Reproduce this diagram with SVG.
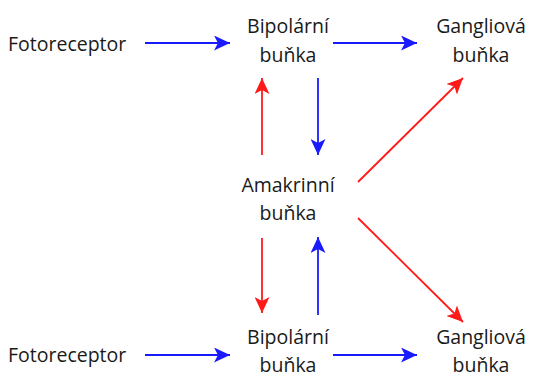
<svg xmlns="http://www.w3.org/2000/svg" width="539" height="378" viewBox="0 0 539 378">
<style>
text{font-family:"Open Sans","Noto Sans",sans-serif;font-size:19.5px;fill:#1a1a1a;}
.c{text-anchor:middle;}
.b{stroke:#1a1aff;stroke-width:1.8;fill:none;}
.r{stroke:#ff1a1a;stroke-width:1.8;fill:none;}
</style>
<defs>
<marker id="ab" viewBox="0 0 16 15" refX="16" refY="7.5" markerWidth="16" markerHeight="15" markerUnits="userSpaceOnUse" orient="auto"><path d="M0,0 L16,7.5 L0,15 L4,7.5 Z" fill="#1a1aff"/></marker>
<marker id="ar" viewBox="0 0 16 15" refX="16" refY="7.5" markerWidth="16" markerHeight="15" markerUnits="userSpaceOnUse" orient="auto"><path d="M0,0 L16,7.5 L0,15 L4,7.5 Z" fill="#ff1a1a"/></marker>
</defs>
<g id="foto1"><text x="8" y="51">Fotoreceptor</text></g>
<g id="bip1"><text class="c" x="288" y="33">Bipolární</text><text class="c" x="288" y="62">buňka</text></g>
<g id="gang1"><text class="c" x="481" y="33">Gangliová</text><text class="c" x="481" y="62">buňka</text></g>
<g id="amak"><text class="c" x="288" y="192">Amakrinní</text><text class="c" x="288" y="220">buňka</text></g>
<g id="foto2"><text x="8" y="362">Fotoreceptor</text></g>
<g id="bip2"><text class="c" x="288" y="344">Bipolární</text><text class="c" x="288" y="372">buňka</text></g>
<g id="gang2"><text class="c" x="481" y="344">Gangliová</text><text class="c" x="481" y="372">buňka</text></g>
<g id="connectors">
<line class="b" x1="145" y1="43" x2="230" y2="43" marker-end="url(#ab)"/>
<line class="b" x1="333" y1="43" x2="417" y2="43" marker-end="url(#ab)"/>
<line class="r" x1="262" y1="155" x2="262" y2="78" marker-end="url(#ar)"/>
<line class="b" x1="318" y1="78" x2="318" y2="155" marker-end="url(#ab)"/>
<line class="r" x1="358" y1="182" x2="463" y2="78" marker-end="url(#ar)"/>
<line class="r" x1="358" y1="218" x2="463" y2="322" marker-end="url(#ar)"/>
<line class="r" x1="262" y1="238" x2="262" y2="313" marker-end="url(#ar)"/>
<line class="b" x1="318" y1="315" x2="318" y2="237" marker-end="url(#ab)"/>
<line class="b" x1="145" y1="355" x2="230" y2="355" marker-end="url(#ab)"/>
<line class="b" x1="333" y1="355" x2="417" y2="355" marker-end="url(#ab)"/>
</g>
</svg>
